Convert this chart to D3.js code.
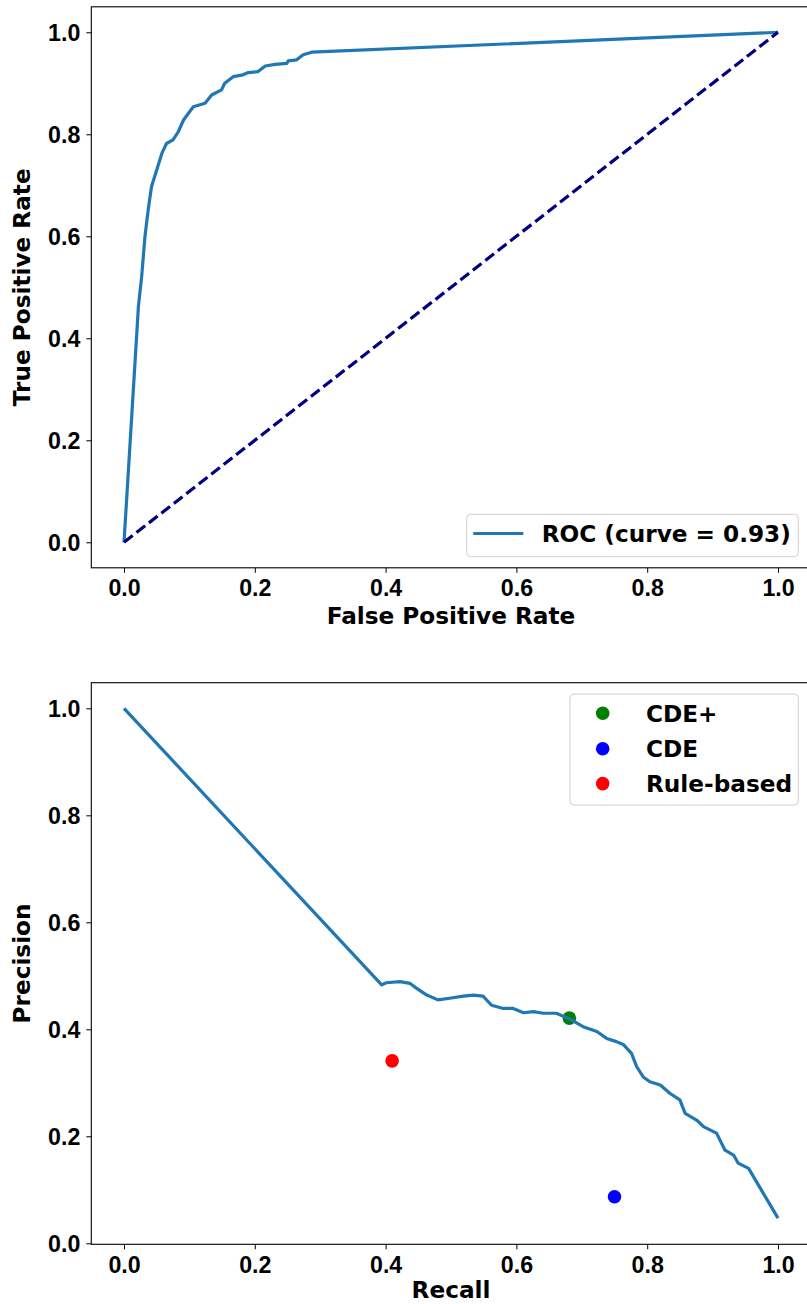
<!DOCTYPE html>
<html>
<head>
<meta charset="utf-8">
<script src="https://cdn.jsdelivr.net/npm/d3@7/dist/d3.min.js"></script>
<style>
  html, body { margin: 0; padding: 0; background: #fff; }
  svg { display: block; font-family: "DejaVu Sans", sans-serif; font-weight: bold; }
</style>
</head>
<body>
<svg id="chart" width="807" height="1304"></svg>
<script>
// ---- Data ----
const rocFpr = [0.0, 0.021, 0.022, 0.027, 0.032, 0.037, 0.042, 0.050, 0.058, 0.065, 0.075, 0.083, 0.091, 0.106, 0.124, 0.134, 0.149, 0.154, 0.167, 0.180, 0.190, 0.205, 0.216, 0.231, 0.249, 0.251, 0.264, 0.274, 0.287, 1.0];
const rocTpr = [0.0, 0.440, 0.462, 0.521, 0.599, 0.652, 0.697, 0.730, 0.763, 0.782, 0.789, 0.805, 0.828, 0.854, 0.861, 0.877, 0.887, 0.900, 0.913, 0.916, 0.921, 0.923, 0.934, 0.937, 0.939, 0.944, 0.946, 0.956, 0.961, 1.0];
const diagX = [0, 1];
const diagY = [0, 1];
const rocLabel = "ROC (curve = 0.93)";

const prRecall = [0.0, 0.394, 0.401, 0.422, 0.437, 0.447, 0.463, 0.480, 0.498, 0.519, 0.534, 0.549, 0.562, 0.580, 0.595, 0.611, 0.626, 0.641, 0.661, 0.682, 0.702, 0.723, 0.738, 0.753, 0.764, 0.776, 0.784, 0.794, 0.804, 0.820, 0.835, 0.850, 0.858, 0.876, 0.886, 0.906, 0.919, 0.932, 0.939, 0.955, 1.0];
const prPrecision = [1.0, 0.483, 0.487, 0.489, 0.486, 0.477, 0.464, 0.455, 0.458, 0.462, 0.464, 0.462, 0.445, 0.439, 0.439, 0.431, 0.433, 0.430, 0.430, 0.419, 0.405, 0.396, 0.383, 0.377, 0.371, 0.355, 0.330, 0.311, 0.302, 0.296, 0.280, 0.268, 0.243, 0.230, 0.218, 0.206, 0.174, 0.165, 0.150, 0.140, 0.047];

const pointNames = ["CDE+", "CDE", "Rule-based"];
const pointRecall = [0.681, 0.750, 0.410];
const pointPrecision = [0.421, 0.087, 0.341];
const pointColors = ["green", "blue", "red"];

const tickValues = [0.0, 0.2, 0.4, 0.6, 0.8, 1.0];

// ---- Layout ----
const svg = d3.select("#chart");
const FONT = 23.2;
const LW = 3.2;
const blue = "#1f77b4";

function drawAxes(g, x, y, xLabel, yLabel, xLabelOffset) {
  const [x0, x1] = x.range();
  const [yb, yt] = y.range();
  const xa = g.append("g").attr("transform", `translate(0,${yb})`)
    .call(d3.axisBottom(x).tickValues(tickValues).tickFormat(d3.format(".1f")).tickSize(5).tickSizeOuter(0));
  xa.select(".domain").remove();
  xa.selectAll("text").attr("y", 28.5).attr("dy", 0).style("font-size", FONT + "px").attr("fill", "#000");
  xa.selectAll("line").attr("stroke", "#000");
  const ya = g.append("g").attr("transform", `translate(${x0},0)`)
    .call(d3.axisLeft(y).tickValues(tickValues).tickFormat(d3.format(".1f")).tickSize(5).tickSizeOuter(0).tickPadding(6));
  ya.select(".domain").remove();
  ya.selectAll("text").attr("dy", "0.36em").style("font-size", FONT + "px").attr("fill", "#000");
  ya.selectAll("line").attr("stroke", "#000");
  g.selectAll(".tick").attr("font-family", null).attr("font-size", null);
  // frame
  g.append("rect").attr("x", x0).attr("y", yt).attr("width", x1 - x0).attr("height", yb - yt)
    .attr("fill", "none").attr("stroke", "#000").attr("stroke-width", 1.1);
  g.append("text").attr("x", (x0 + x1) / 2).attr("y", yb + xLabelOffset).attr("text-anchor", "middle")
    .style("font-size", FONT + "px").text(xLabel);
  g.append("text").attr("transform", `translate(29.5,${(yb + yt) / 2}) rotate(-90)`).attr("text-anchor", "middle")
    .style("font-size", FONT + "px").text(yLabel);
}

// ---- Top: ROC ----
const g1 = svg.append("g");
const x1s = d3.scaleLinear().domain([-0.05, 1.05]).range([91.3, 810.7]);
const y1s = d3.scaleLinear().domain([-0.05, 1.05]).range([567.8, 6.8]);

const line1 = d3.line().x(d => x1s(d[0])).y(d => y1s(d[1]));
g1.append("path").datum(rocFpr.map((v, i) => [v, rocTpr[i]]))
  .attr("d", line1).attr("fill", "none").attr("stroke", blue).attr("stroke-width", LW)
  .attr("stroke-linejoin", "round").attr("stroke-linecap", "butt");
g1.append("path").datum(diagX.map((v, i) => [v, diagY[i]]))
  .attr("d", line1).attr("fill", "none").attr("stroke", "#000080").attr("stroke-width", LW)
  .attr("stroke-dasharray", "11,4.8");
drawAxes(g1, x1s, y1s, "False Positive Rate", "True Positive Rate", 56.5);

// legend top
const lg1 = g1.append("g");
lg1.append("rect").attr("x", 466.7).attr("y", 514.3).attr("width", 331.6).attr("height", 42.4)
  .attr("rx", 4).attr("fill", "#fff").attr("fill-opacity", 0.8).attr("stroke", "#d0d0d0");
lg1.append("line").attr("x1", 473.3).attr("x2", 523.3).attr("y1", 533.5).attr("y2", 533.5)
  .attr("stroke", blue).attr("stroke-width", LW);
lg1.append("text").attr("x", 541.7).attr("y", 541.8).style("font-size", FONT + "px").text(rocLabel);

// ---- Bottom: PR ----
const g2 = svg.append("g");
const x2s = d3.scaleLinear().domain([-0.05, 1.05]).range([91.3, 810.7]);
const y2s = d3.scaleLinear().domain([-0.00187, 1.0479]).range([1244.3, 682.7]);

g2.selectAll("circle.pt").data(pointNames).enter().append("circle").attr("class", "pt")
  .attr("cx", (d, i) => x2s(pointRecall[i])).attr("cy", (d, i) => y2s(pointPrecision[i]))
  .attr("r", 6.8).attr("fill", (d, i) => pointColors[i]);
const line2 = d3.line().x(d => x2s(d[0])).y(d => y2s(d[1]));
g2.append("path").datum(prRecall.map((v, i) => [v, prPrecision[i]]))
  .attr("d", line2).attr("fill", "none").attr("stroke", blue).attr("stroke-width", LW)
  .attr("stroke-linejoin", "round");
drawAxes(g2, x2s, y2s, "Recall", "Precision", 54);

// legend bottom
const lg2 = g2.append("g");
lg2.append("rect").attr("x", 570).attr("y", 694).attr("width", 228.3).attr("height", 111)
  .attr("rx", 4).attr("fill", "#fff").attr("fill-opacity", 0.8).attr("stroke", "#d0d0d0");
const legY = [713.3, 748.8, 783.6];
pointNames.forEach((n, i) => {
  lg2.append("circle").attr("cx", 602.7).attr("cy", legY[i]).attr("r", 6.8).attr("fill", pointColors[i]);
  lg2.append("text").attr("x", 646).attr("y", legY[i] + 8.3).style("font-size", FONT + "px").text(n);
});
</script>
</body>
</html>
